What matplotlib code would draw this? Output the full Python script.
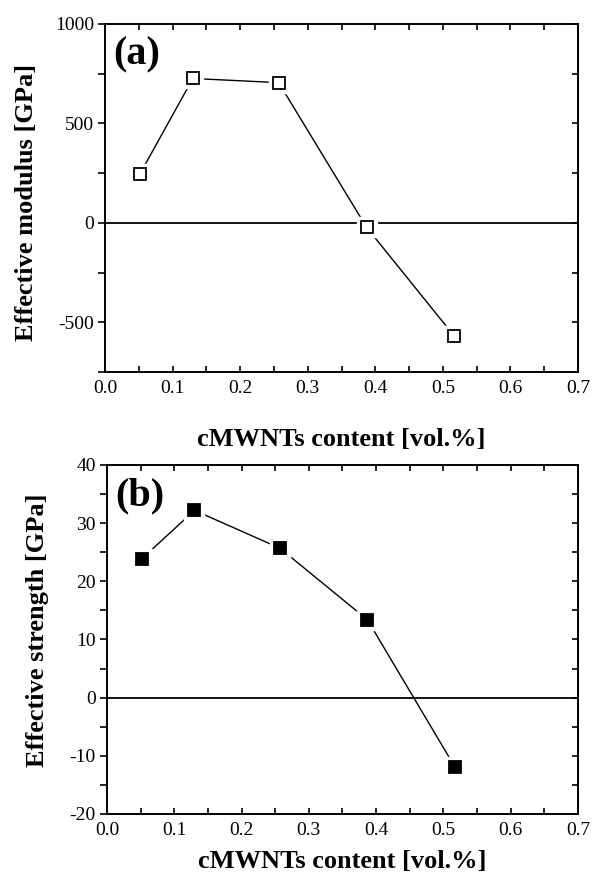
import matplotlib
matplotlib.use("Agg")
import matplotlib.pyplot as plt
from matplotlib.ticker import MultipleLocator, FormatStrFormatter

content = [0.052, 0.130, 0.257, 0.387, 0.517]
modulus = [248, 726, 705, -22, -570]
strength = [23.9, 32.2, 25.7, 13.4, -11.9]

x_label = "cMWNTs content [vol.%]"
y_labels = ["Effective modulus [GPa]", "Effective strength [GPa]"]
panel_tags = ["(a)", "(b)"]

plt.rcParams['font.family'] = ['Liberation Serif', 'DejaVu Serif']

fig = plt.figure(figsize=(5.92, 8.82), dpi=100)
ax1 = fig.add_axes([0.1774, 0.5782, 0.7990, 0.3946])
ax2 = fig.add_axes([0.1807, 0.0771, 0.7956, 0.3957])

def style(ax, ylim, ymaj, ymin, ylabel, tag, ylab_xy, xlab_y):
    ax.set_xlim(0, 0.7)
    ax.set_ylim(*ylim)
    ax.xaxis.set_major_locator(MultipleLocator(0.1))
    ax.xaxis.set_minor_locator(MultipleLocator(0.05))
    ax.yaxis.set_major_locator(MultipleLocator(ymaj))
    ax.yaxis.set_minor_locator(MultipleLocator(ymin))
    ax.xaxis.set_major_formatter(FormatStrFormatter('%.1f'))
    ax.yaxis.set_major_formatter(FormatStrFormatter('%d'))
    for s in ax.spines.values():
        s.set_linewidth(1.4)
    ax.tick_params(axis='x', which='both', direction='in', top=True, bottom=True,
                   labelsize=14, width=1.2, length=4, pad=6)
    ax.tick_params(axis='y', which='both', direction='out', left=True, right=False,
                   labelsize=14, width=1.2, length=5, pad=3)
    secy = ax.secondary_yaxis('right')
    secy.yaxis.set_major_locator(MultipleLocator(ymaj))
    secy.yaxis.set_minor_locator(MultipleLocator(ymin))
    secy.tick_params(which='both', direction='in', labelright=False, length=4, width=1.2)
    secy.spines['right'].set_linewidth(1.4)
    ax.axhline(0, color='black', lw=1.3, zorder=1)
    ax.set_xlabel(x_label, fontsize=19, fontweight='bold')
    ax.xaxis.set_label_coords(0.5, xlab_y)
    ax.xaxis.label.set_va('center')
    ax.set_ylabel(ylabel, fontsize=19, fontweight='bold')
    ax.yaxis.set_label_coords(*ylab_xy)
    ax.yaxis.label.set_va('center')
    ax.text(0.017, 0.963, tag, transform=ax.transAxes, fontsize=29, fontweight='bold',
            va='top', ha='left')

style(ax1, (-750, 1000), 500, 250, y_labels[0], panel_tags[0], (-0.167, 0.486), -0.195)
style(ax2, (-20, 40), 10, 5, y_labels[1], panel_tags[1], (-0.1465, 0.527), -0.1375)

for ax, y, fc in [(ax1, modulus, 'white'), (ax2, strength, 'black')]:
    ax.plot(content, y, color='black', lw=1.0, zorder=2)
    ax.plot(content, y, ls='none', marker='s', ms=14, mfc='white', mec='white', zorder=3)
    ax.plot(content, y, ls='none', marker='s', ms=9, mfc=fc, mec='black', mew=1.3, zorder=4)

fig.savefig("out.png", dpi=100)
